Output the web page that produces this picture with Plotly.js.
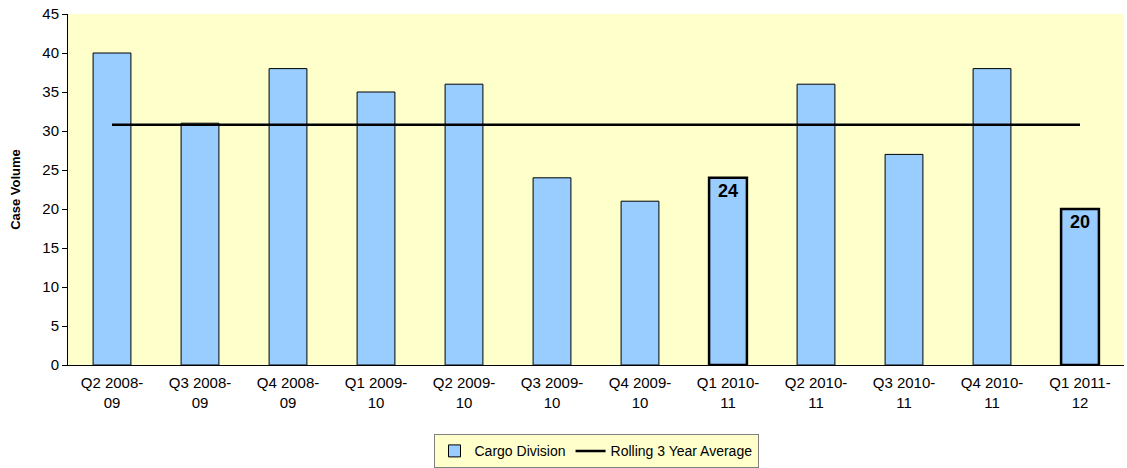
<!DOCTYPE html>
<html>
<head>
<meta charset="utf-8">
<script src="https://cdn.plot.ly/plotly-3.0.1.min.js"></script>
<style>html,body{margin:0;padding:0;background:#fff;}#chart{width:1127px;height:468px;}</style>
</head>
<body>
<div id="chart"></div>
<script>
const categories = ["Q2 2008-<br>09","Q3 2008-<br>09","Q4 2008-<br>09","Q1 2009-<br>10","Q2 2009-<br>10","Q3 2009-<br>10","Q4 2009-<br>10","Q1 2010-<br>11","Q2 2010-<br>11","Q3 2010-<br>11","Q4 2010-<br>11","Q1 2011-<br>12"];
const cargoDivision = [40,31,38,35,36,24,21,24,36,27,38,20];
const rollingAverage = [30.8,30.8,30.8,30.8,30.8,30.8,30.8,30.8,30.8,30.8,30.8,30.8];
const barLabels = ["","","","","","","","24","","","","20"];
const highlighted = [false,false,false,false,false,false,false,true,false,false,false,true];

const data = [
  {
    type: 'bar', name: 'Cargo Division', x: categories, y: cargoDivision,
    text: barLabels, textposition: 'inside', insidetextanchor: 'end',
    textfont: {family: 'Liberation Sans, Arial, sans-serif', size: 18, color: '#000', weight: 'bold'},
    marker: {color: '#99CCFF', line: {color: '#000', width: highlighted.map(h => h ? 2.5 : 1)}},
    hoverinfo: 'skip'
  },
  {
    type: 'scatter', mode: 'lines', name: 'Rolling 3 Year Average', x: categories, y: rollingAverage,
    line: {color: '#000', width: 2.5}, hoverinfo: 'skip'
  }
];

const layout = {
  width: 1127, height: 468,
  margin: {l: 68, r: 3, t: 14, b: 103, autoexpand: false},
  paper_bgcolor: '#ffffff', plot_bgcolor: '#FFFFCC',
  font: {family: 'Liberation Sans, Arial, sans-serif', size: 15, color: '#000'},
  bargap: 0.57,
  showlegend: true,
  legend: {orientation: 'h', x: 0.5, xanchor: 'center', yref: 'container', y: 0.072, yanchor: 'top',
    bgcolor: '#FFFFCC', bordercolor: '#808080', borderwidth: 1,
    font: {size: 14}, traceorder: 'normal', itemwidth: 30, tracegroupgap: 0},
  xaxis: {showline: true, linecolor: '#000', linewidth: 1, ticks: '', showgrid: false,
    tickfont: {size: 15}, zeroline: false, automargin: false, ticklabelstandoff: 4},
  yaxis: {range: [0, 45], dtick: 5, showline: true, linecolor: '#000', linewidth: 1,
    ticks: 'outside', ticklen: 5, tickcolor: '#000', showgrid: false, zeroline: false,
    tickfont: {size: 15}, automargin: false,
    title: {text: 'Case Volume', font: {size: 13, weight: 'bold'}, standoff: 18}}
};

Plotly.newPlot('chart', data, layout, {displayModeBar: false, staticPlot: true});
</script>
</body>
</html>
